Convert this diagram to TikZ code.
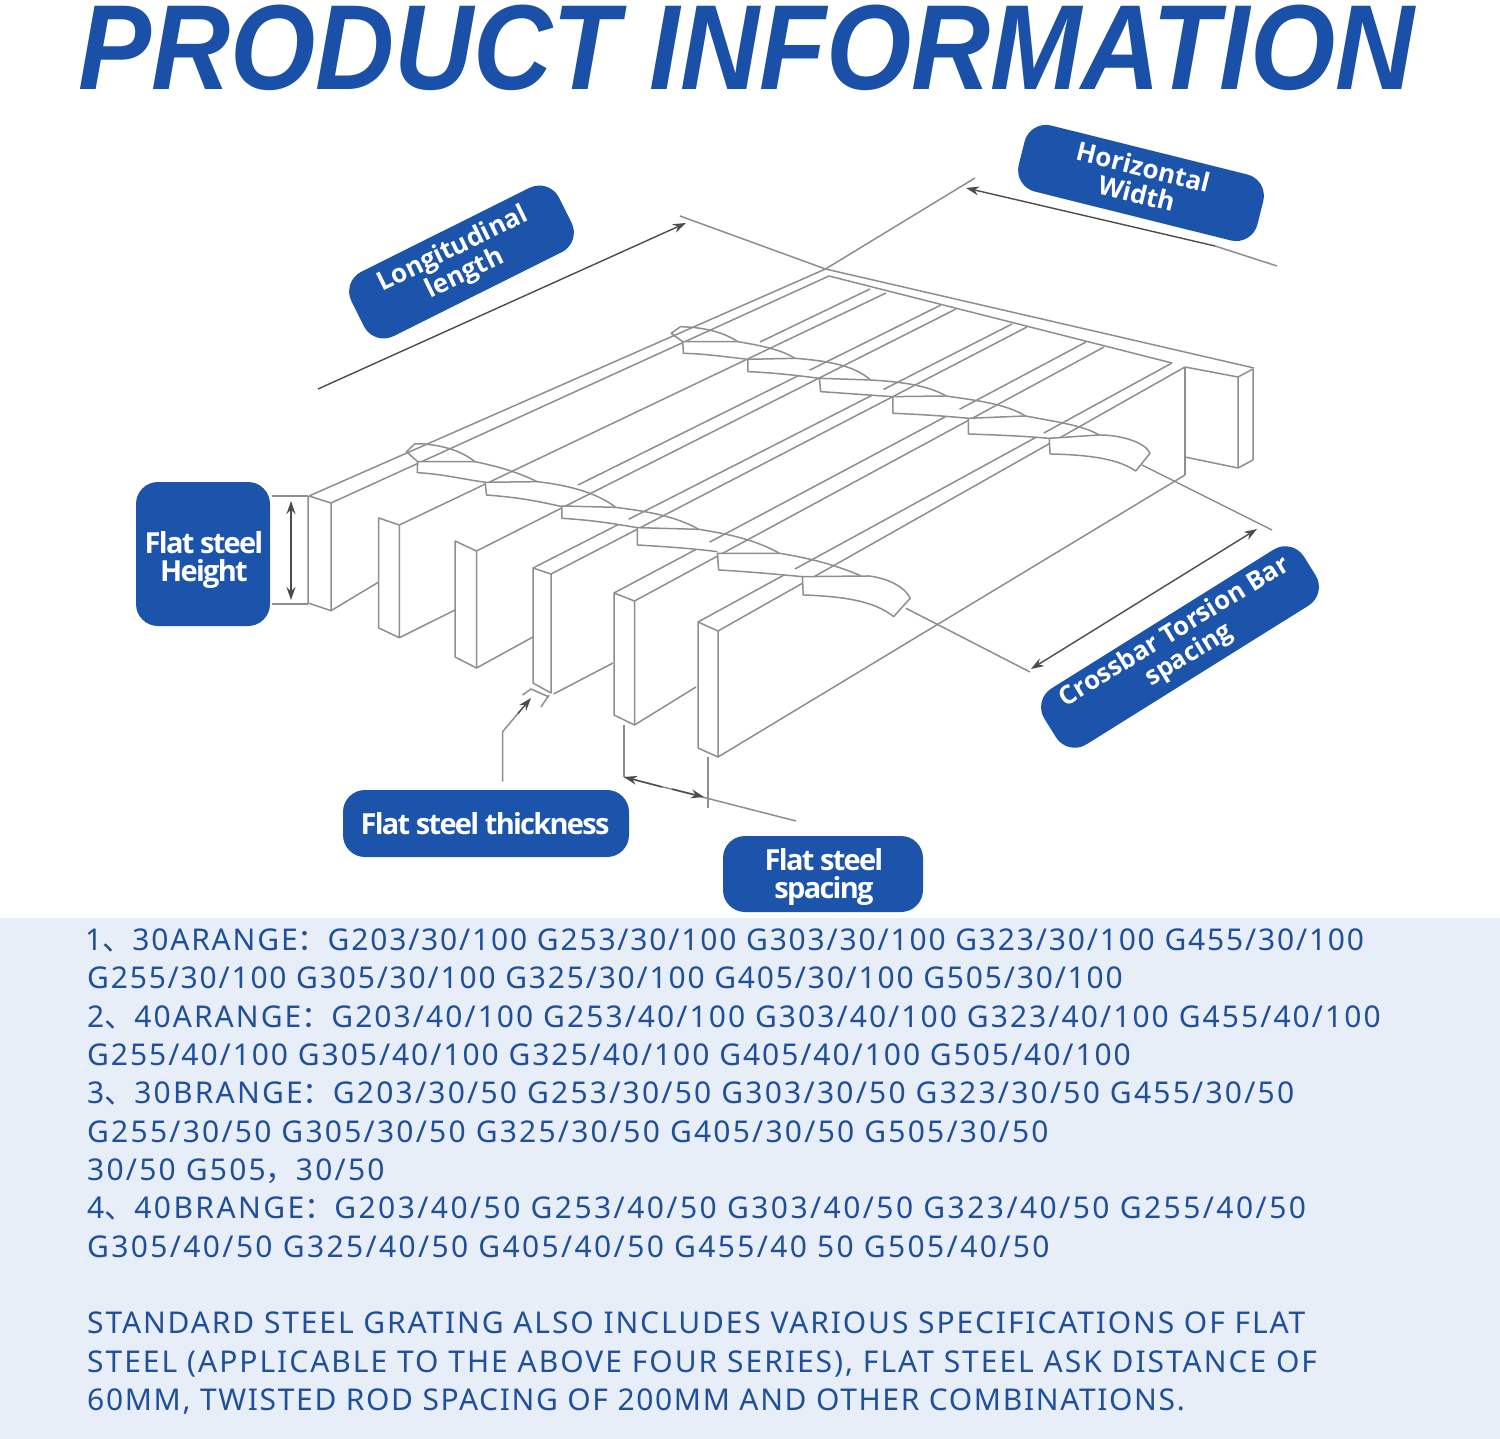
\documentclass[tikz,border=0pt]{standalone}
\usepackage{fontspec}
\usetikzlibrary{arrows.meta}
\setmainfont[LetterSpace=5.4]{Noto Sans}
\newfontfamily\cjk{Noto Sans CJK SC}
\newfontfamily\ttl[FakeStretch=0.905]{Liberation Sans Bold Italic}
\newfontfamily\lblf[LetterSpace=-6]{Open Sans Bold}
\newfontfamily\lblg{Open Sans Bold}
\definecolor{blu}{HTML}{1C54AC}
\definecolor{txtc}{HTML}{1F5099}
\definecolor{panel}{HTML}{E8EEF7}
\definecolor{ttlc}{HTML}{1B50A8}
\definecolor{ln}{HTML}{8E8E8E}
\newcommand{\twp}[6]{\fill[white] #1--#2--#3 .. controls #4 and #5 .. #6--cycle; \draw[line] #2--#1--#6 .. controls #5 and #4 .. #3;}
\newcommand{\lsp}[1]{\addfontfeature{LetterSpace=#1}}
\tikzset{
 line/.style={draw=ln,line width=1.5pt,line join=round},
 dim/.style={draw=black!70,line width=1.4pt,-{Stealth[length=13pt,width=9pt]}},
 dimb/.style={draw=black!70,line width=1.4pt,{Stealth[length=13pt,width=9pt]}-{Stealth[length=13pt,width=9pt]}},
 pill/.style={fill=blu,rounded corners=22pt,inner sep=0pt,anchor=center},
 lbl/.style={text=white,align=center,inner sep=0pt},
 bodyl/.style={anchor=base west,text=txtc,inner sep=0pt,font=\fontsize{30}{36}\selectfont},
 zoomA/.style={shift={(280,420)},xscale=0.4146,yscale=0.3333},
 zoomB/.style={shift={(650,170)},xscale=0.4082,yscale=0.3333},
}
\begin{document}
\begin{tikzpicture}[x=1pt,y=-1pt]
\useasboundingbox (0,0) rectangle (1500,1439);
\fill[white] (0,0) rectangle (1500,1439);
\fill[panel] (0,918) rectangle (1500,1439);
\node[anchor=base west,inner sep=0pt,text=ttlc] (title) at (78,90)
  {\ttl\fontsize{121}{130}\selectfont PRODUCT INFORMATION};

% long bar lines
\draw[line] (309,496)--(825.5,269);
\draw[line] (331,503)--(829,276);
\draw[line] (399.4,525)--(886,293);
\draw[line] (760,342)--(870,289);
\draw[line] (476.5,551)--(956,309);
\draw[line] (578,485)--(941,305);
\draw[line] (533,568)--(1012,324);
\draw[line] (551,574)--(1027,327);
\draw[line] (614,593)--(1086,342);
\draw[line] (634.5,601)--(1104,347);
\draw[line] (698,622)--(1172,363);
\draw[line] (718,631)--(1185,367);
% rear bar
\draw[line] (825.5,269)--(1254,368);
\draw[line] (829,276)--(1172,363);
\draw[line] (1185,367)--(1238,377)--(1253,369);
\draw[line] (1185,367)--(1185,475);
\draw[line] (1238,377)--(1238,468)--(1185,457);
\draw[line] (1253,369)--(1253,460)--(1238,468);
\draw[line] (718,757)--(1185,475);
% front bars
\draw[line] (309,496)--(331,503)--(331,610.7)--(308,603)--(308,496);
\draw[line] (331,610.7)--(378.7,582);
\draw[line,fill=white] (378.7,518)--(399.4,525)--(399.4,637.7)--(378.7,628)--cycle;
\draw[line] (399.4,637.7)--(455,610);
\draw[line,fill=white] (455,541)--(476.5,551)--(476.5,668)--(455,657)--cycle;
\draw[line] (476.5,668)--(533,637);
\draw[line,fill=white] (533,568)--(551,574)--(551,693)--(533,683)--cycle;
\draw[line] (553.6,694)--(613,663);
\draw[line,fill=white] (614,593)--(634.5,601)--(634.5,725)--(614,715)--cycle;
\draw[line] (634.5,725)--(696,687);
\draw[line,fill=white] (698,622)--(718,631)--(718,757)--(698,748)--cycle;

% front twist
\begin{scope}[zoomA]
 \draw[line] (332,125)--(305,95)--(325,72)--(350,72);
 \twp{(332,125)}{(470,125)}{(495,187)}{(430,175)}{(390,162)}{(331,158)}
 \twp{(495,187)}{(620,185)}{(680,260)}{(610,240)}{(570,232)}{(498,225)}
 \twp{(680,258)}{(810,262)}{(862,323)}{(800,310)}{(750,300)}{(680,295)}
 \twp{(862,323)}{(1010,328)}{(1055,395)}{(990,385)}{(930,380)}{(862,375)}
 \twp{(1055,400)}{(1205,400)}{(1260,470)}{(1190,462)}{(1130,455)}{(1058,450)}
 \fill[white] (1260,470)--(1420,468) .. controls (1470,475) and (1510,505) .. (1520,535)--(1480,590) .. controls (1440,550) and (1380,530) .. (1262,525)--cycle;
 \draw[line] (1260,470)--(1420,468) .. controls (1470,475) and (1510,505) .. (1520,535)--(1480,590) .. controls (1440,550) and (1380,530) .. (1262,525)--cycle;
 \draw[line] (350,72) .. controls (410,80) and (445,100) .. (470,125)
   .. controls (530,140) and (580,160) .. (620,185)
   .. controls (690,195) and (760,215) .. (810,262)
   .. controls (870,272) and (950,285) .. (1010,328)
   .. controls (1070,340) and (1140,355) .. (1205,400)
   .. controls (1280,415) and (1340,435) .. (1400,467);
 \coordinate (extA) at (1510,565);
\end{scope}
% rear twist
\begin{scope}[zoomB]
 \draw[line] (80,515)--(52,490)--(75,470)--(105,472);
 \twp{(80,515)}{(215,515)}{(240,568)}{(180,560)}{(140,552)}{(82,550)}
 \twp{(240,568)}{(355,565)}{(415,625)}{(350,615)}{(300,608)}{(240,605)}
 \twp{(415,625)}{(540,630)}{(595,680)}{(530,675)}{(480,670)}{(418,665)}
 \twp{(595,680)}{(725,678)}{(780,745)}{(720,738)}{(660,733)}{(595,730)}
 \twp{(780,745)}{(920,738)}{(978,805)}{(910,798)}{(850,795)}{(780,792)}
 \fill[white] (978,805)--(1100,795) .. controls (1160,795) and (1215,820) .. (1225,850)--(1190,903) .. controls (1150,870) and (1090,855) .. (980,852)--cycle;
 \draw[line] (978,805)--(1100,795) .. controls (1160,795) and (1215,820) .. (1225,850)--(1190,903) .. controls (1150,870) and (1090,855) .. (980,852)--cycle;
 \draw[line] (105,472) .. controls (160,480) and (190,495) .. (215,515)
   .. controls (290,530) and (330,545) .. (355,565)
   .. controls (430,572) and (500,585) .. (540,630)
   .. controls (610,635) and (680,645) .. (725,678)
   .. controls (790,690) and (870,700) .. (920,738)
   .. controls (990,755) and (1060,765) .. (1100,795);
 \coordinate (extB) at (1205,885);
\end{scope}

% extension and dimension lines
\coordinate (c0) at (825.5,269);
\draw[line] (680,216)--(c0);
\draw[line] (975,178)--(c0);
\draw[line] (extB)--(1272,530);
\draw[line] (extA)--(1030,672);
\draw[dim] (318,389)--(686,223);
\draw[dim] (1215,246)--(966,188);
\draw[line] (1215,246)--(1277,266);
\draw[dimb] (1031,669)--(1257,529);
\draw[dimb] (291,501)--(291,600);
\draw[line] (272,496)--(308,496);
\draw[line] (272,604)--(308,604);
\draw[line] (502.6,781.7)--(502.6,731.7)--(520,711);
\draw[dim] (518,713.5)--(531,698);
\draw[line] (522.5,695)--(531,689)--(549,697);
\draw[line] (541,707)--(549,695);
% spacing
\draw[line] (624,725)--(624,777);
\draw[line] (708,757)--(708,808);
\draw[line] (624,777)--(796,821);
\draw[dim] (662,787)--(624,777);
\draw[dim] (672,789)--(704,797);

% labels
\node[pill,minimum width=232pt,minimum height=72pt,rotate=26.5] (longl) at (461.5,262) {};
\node[pill,minimum width=246pt,minimum height=68pt,rotate=-14] (horw) at (1141,183) {};
\node[pill,minimum width=306pt,minimum height=66pt,rotate=32] (cross) at (1180,647) {};
\node[pill,minimum width=134pt,minimum height=144pt] (hgt) at (203,554) {};
\node[pill,minimum width=286pt,minimum height=67pt] (thk) at (486,823.5) {};
\node[pill,minimum width=200pt,minimum height=76pt] (spc) at (823,874) {};
\node[lbl,rotate=26,font=\lblg\fontsize{26}{27}\selectfont] (longt) at (459,262) {Longitudinal\\length};
\node[lbl,rotate=-14,font=\lblg\fontsize{26}{27}\selectfont] (hort) at (1140,180) {Horizontal\\Width};
\node[lbl,rotate=31.5,font=\lblg\fontsize{25.7}{27}\selectfont] (crosst) at (1182,644) {Crossbar Torsion Bar\\spacing};
\node[lbl,font=\lblf\fontsize{29}{28}\selectfont] (hgtt) at (204,560) {Flat steel\\Height};
\node[lbl,font=\lblf\fontsize{29}{28}\selectfont] (thkt) at (485,824) {Flat steel thickness};
\node[lbl,font=\lblf\fontsize{29}{28}\selectfont] (spct) at (824,877) {Flat steel\\spacing};

% body text
\node[bodyl] (l1) at (85,950) {\lsp{6.05}1{\cjk 、}30ARANGE{\cjk ：}G203/30/100 G253/30/100 G303/30/100 G323/30/100 G455/30/100};
\node[bodyl] (l2) at (87,988) {\lsp{6.0}G255/30/100 G305/30/100 G325/30/100 G405/30/100 G505/30/100};
\node[bodyl] (l3) at (87,1027) {\lsp{6.85}2{\cjk 、}40ARANGE{\cjk ：}G203/40/100 G253/40/100 G303/40/100 G323/40/100 G455/40/100};
\node[bodyl] (l4) at (87,1065) {\lsp{6.5}G255/40/100 G305/40/100 G325/40/100 G405/40/100 G505/40/100};
\node[bodyl] (l5) at (87,1103) {\lsp{7.4}3{\cjk 、}30BRANGE{\cjk ：}G203/30/50 G253/30/50 G303/30/50 G323/30/50 G455/30/50};
\node[bodyl] (l6) at (87,1142) {\lsp{7.4}G255/30/50 G305/30/50 G325/30/50 G405/30/50 G505/30/50};
\node[bodyl] (l7) at (87,1180) {\lsp{7.4}30/50 G505{\cjk ，}30/50};
\node[bodyl] (l8) at (87,1218) {\lsp{8.1}4{\cjk 、}40BRANGE{\cjk ：}G203/40/50 G253/40/50 G303/40/50 G323/40/50 G255/40/50};
\node[bodyl] (l9) at (87,1257) {\lsp{7.85}G305/40/50 G325/40/50 G405/40/50 G455/40 50 G505/40/50};
\node[bodyl] (l10) at (87,1333) {\lsp{6.25}STANDARD STEEL GRATING ALSO INCLUDES VARIOUS SPECIFICATIONS OF FLAT};
\node[bodyl] (l11) at (87,1372) {\lsp{6.6}STEEL (APPLICABLE TO THE ABOVE FOUR SERIES), FLAT STEEL ASK DISTANCE OF};
\node[bodyl] (l12) at (87,1410) {\lsp{5.5}60MM, TWISTED ROD SPACING OF 200MM AND OTHER COMBINATIONS.};
\end{tikzpicture}
\end{document}
